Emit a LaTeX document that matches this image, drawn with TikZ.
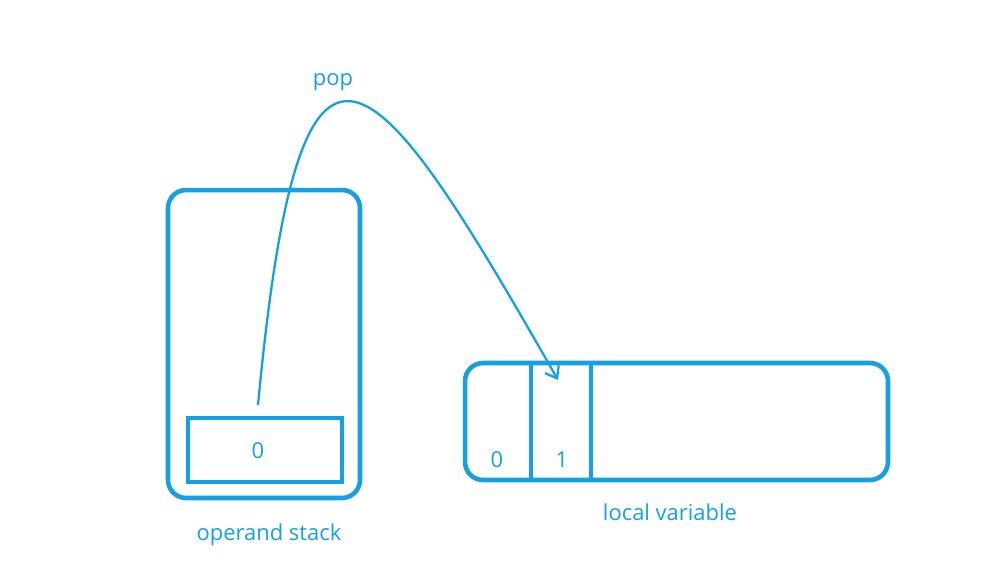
\documentclass[tikz,border=0pt]{standalone}
\usepackage{fontspec}
\setmainfont{Open Sans}
\usetikzlibrary{arrows.meta}
\definecolor{lineblue}{RGB}{20,160,225}

\begin{document}
\begin{tikzpicture}[x=0.02cm, y=-0.02cm]
    % ==========================
    % 設定
    % ==========================
    \tikzset{
        box/.style={draw=lineblue, line width=2.6pt, rounded corners=0.36cm, inner sep=0pt}, % 外枠
        cell/.style={draw=lineblue, line width=2.6pt, inner sep=0pt}, % セル
        txt/.style={text=lineblue, font=\fontsize{12.5}{15}\selectfont} % 文字
    }
    \useasboundingbox (0,0) rectangle (1000,575);

    % ==========================
    % 1. operand stack
    % ==========================
    \node[box, minimum width=3.84cm, minimum height=6.16cm] (stack) at (264,344) {};
    \node[cell, minimum width=3.08cm, minimum height=1.28cm] (top) at (265,450) {};
    \node[txt] (topval) at (258,451) {0};
    \node[txt] (stacklbl) at (269,535) {operand stack};

    % ==========================
    % 2. local variable
    % ==========================
    \node[box, minimum width=8.46cm, minimum height=2.34cm] (lv) at (676.5,421.5) {};
    \draw[lineblue, line width=2.6pt] (lv.north -| 531,0) -- (lv.south -| 531,0);
    \draw[lineblue, line width=2.6pt] (lv.north -| 591,0) -- (lv.south -| 591,0);
    \node[txt] (slot0) at (497,460) {0};
    \node[txt] (slot1) at (562,460) {1};
    \node[txt] (lvlbl) at (670,512) {local variable};

    % ==========================
    % 3. pop の矢印
    % ==========================
    \node[txt] (pop) at (333,82) {pop};
    \coordinate (from) at (258,405);
    \coordinate (to) at (558,380);
    \draw[lineblue, line width=1.3pt, -{Straight Barb[length=6pt, width=9pt]}]
        (from) .. controls (300,-40) and (370,50) .. (to);
\end{tikzpicture}
\end{document}
